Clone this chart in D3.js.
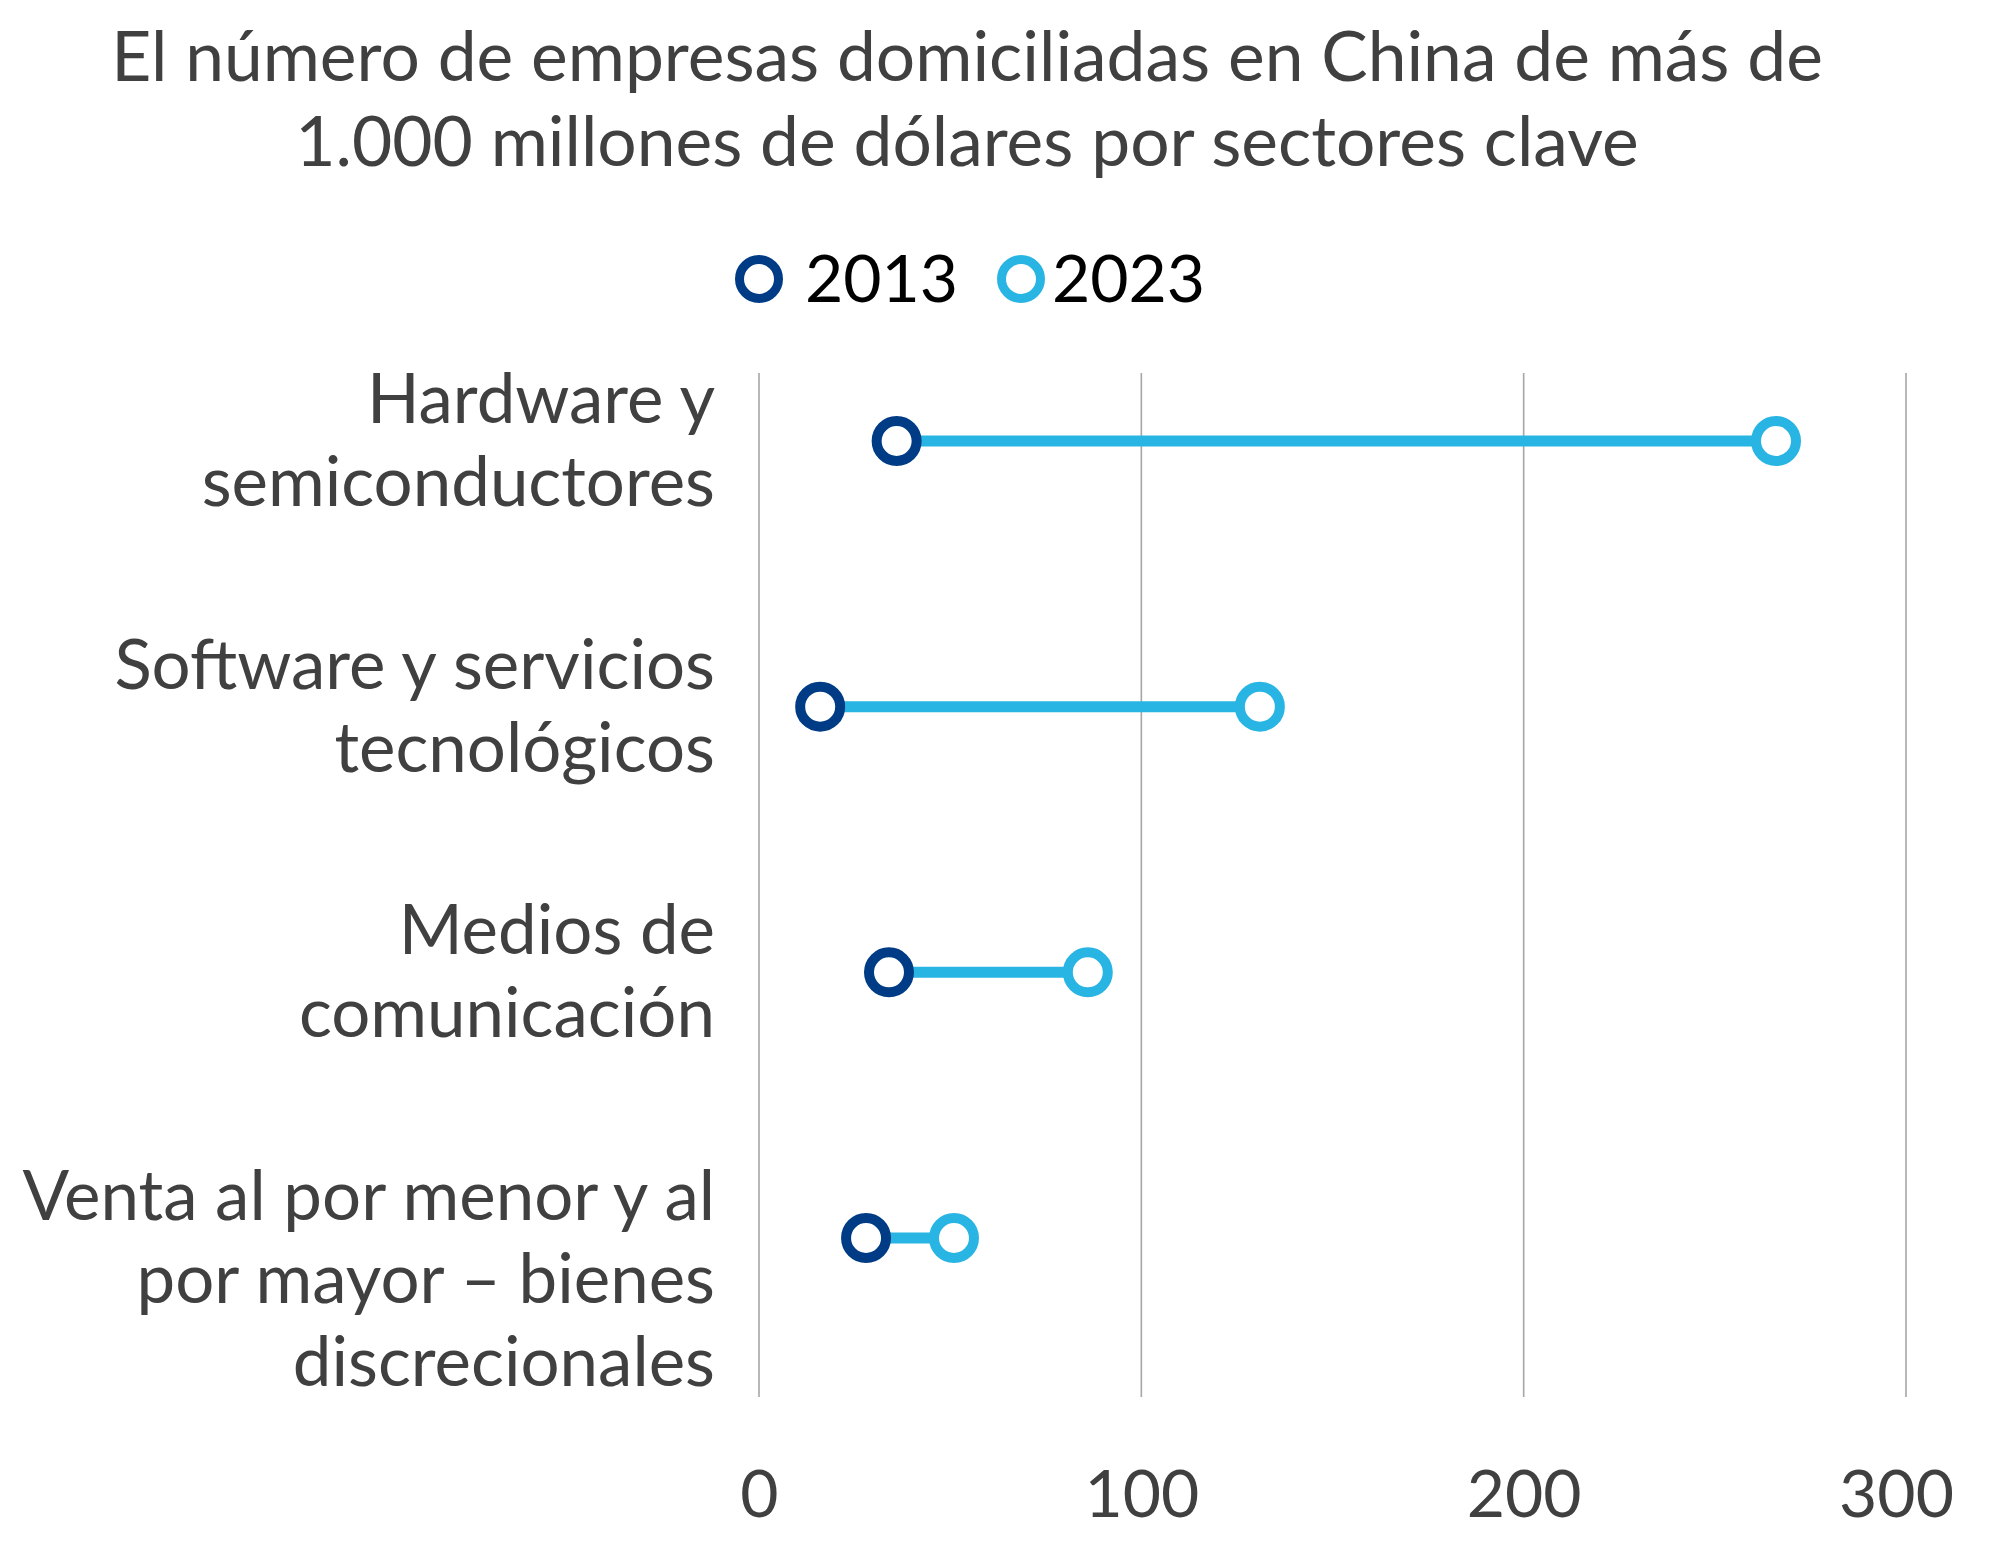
<!DOCTYPE html>
<html><head><meta charset="utf-8">
<script src="https://cdn.jsdelivr.net/npm/d3@7"></script>
<style>
html,body{margin:0;padding:0;background:#fff;}
text{font-family:Lato,"Noto Sans",sans-serif;}
</style></head>
<body><svg id="chart" width="2004" height="1545"></svg>
<script>
const titleLines = ["El número de empresas domiciliadas en China de más de", "1.000 millones de dólares por sectores clave"];
const categories = ["Hardware y semiconductores", "Software y servicios tecnológicos", "Medios de comunicación", "Venta al por menor y al por mayor – bienes discrecionales"];
const categoryLines = [["Hardware y", "semiconductores"], ["Software y servicios", "tecnológicos"], ["Medios de", "comunicación"], ["Venta al por menor y al", "por mayor – bienes", "discrecionales"]];
const series = ["2013", "2023"];
const values2013 = [36, 16, 34, 28];
const values2023 = [266, 131, 86, 51];
const tickValues = [0, 100, 200, 300];

const dark = "#003c85", light = "#29b5e3", textCol = "#404040";
const svg = d3.select("#chart");
const x = d3.scaleLinear().domain([0, 300]).range([759, 1906]);
const y = d3.scalePoint().domain(categories).range([441, 1238]);
const gridTop = 373, gridBottom = 1397;
const fs = 66;

// title
svg.append("g").selectAll("text").data(titleLines).join("text")
  .attr("x", 967).attr("y", (d, i) => 81 + i * 85)
  .attr("text-anchor", "middle").attr("font-size", 69.5).attr("fill", textCol).text(d => d);

// legend
const leg = svg.append("g");
const legX = [759, 1021];
series.forEach((s, i) => {
  leg.append("circle").attr("cx", legX[i]).attr("cy", 279).attr("r", 19.5)
    .attr("fill", "#fff").attr("stroke", i ? light : dark).attr("stroke-width", 9);
  leg.append("text").attr("x", legX[i] + (i ? 31 : 46)).attr("y", 302).attr("font-size", fs)
    .attr("fill", "#000").text(s);
});

// grid
svg.append("g").selectAll("line").data(tickValues).join("line")
  .attr("x1", d => x(d)).attr("x2", d => x(d)).attr("y1", gridTop).attr("y2", gridBottom)
  .attr("stroke", "#a6a6a6").attr("stroke-width", 1.6);

// x axis labels
const xAxis = d3.axisBottom(x).tickValues(tickValues).tickSize(0).tickPadding(0).tickFormat(d3.format("d"));
const gx = svg.append("g").attr("transform", `translate(0,${1470})`).call(xAxis);
gx.select(".domain").remove();
gx.selectAll("text").attr("font-size", fs).attr("fill", textCol).attr("dy", "0.71em")
  .attr("dx", d => d === 300 ? -10 : 0)
  .style("font-family", "Lato, 'Noto Sans', sans-serif");

// category labels
const cl = svg.append("g");
categories.forEach((c, i) => {
  const t = cl.append("text").attr("text-anchor", "end").attr("font-size", 69).attr("fill", textCol);
  categoryLines[i].forEach((ln, j) => {
    t.append("tspan").attr("x", 715).attr("y", y(c) - 18 + j * 83).text(ln);
  });
});

// connectors
const rows = categories.map((c, i) => ({c, a: values2013[i], b: values2023[i]}));
svg.append("g").selectAll("line").data(rows).join("line")
  .attr("x1", d => x(d.a)).attr("x2", d => x(d.b)).attr("y1", d => y(d.c)).attr("y2", d => y(d.c))
  .attr("stroke", light).attr("stroke-width", 11);

// points
const pts = svg.append("g");
pts.selectAll("circle.b").data(rows).join("circle").attr("class", "b")
  .attr("cx", d => x(d.b)).attr("cy", d => y(d.c)).attr("r", 20)
  .attr("fill", "#fff").attr("stroke", light).attr("stroke-width", 10);
pts.selectAll("circle.a").data(rows).join("circle").attr("class", "a")
  .attr("cx", d => x(d.a)).attr("cy", d => y(d.c)).attr("r", 20)
  .attr("fill", "#fff").attr("stroke", dark).attr("stroke-width", 10);
</script></body></html>
